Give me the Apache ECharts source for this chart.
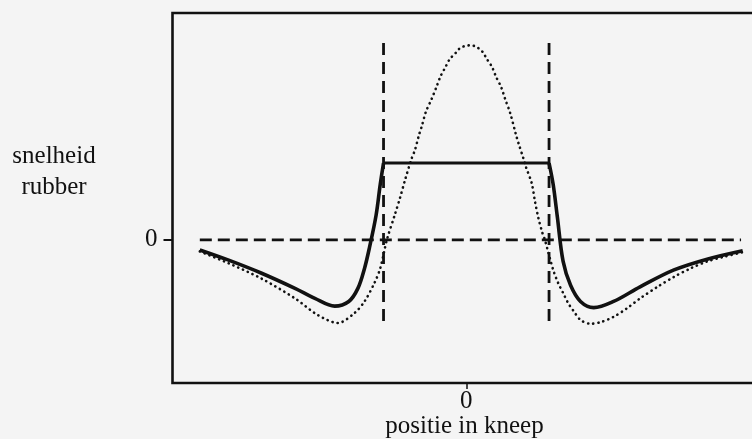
<!DOCTYPE html>
<html>
<head>
<meta charset="utf-8">
<script src="https://cdn.jsdelivr.net/npm/echarts@6/dist/echarts.min.js"></script>
<style>
  html, body { margin: 0; padding: 0; background: #f4f4f4; }
  #chart { width: 752px; height: 439px; }
</style>
</head>
<body>
<div id="chart"></div>
<script>
// Rubber surface speed across the nip (kneep), in relative units.
// Positions: the nip edges sit at -1 and +1.

// Resulting rubber speed (solid), split into three parts
const speedLeft = [
  [-3.22, -0.13], [-2.88, -0.26], [-2.48, -0.43], [-2.07, -0.63], [-1.83, -0.76],
  [-1.59, -0.86], [-1.42, -0.80], [-1.31, -0.63], [-1.23, -0.37], [-1.17, -0.10],
  [-1.09, 0.32], [-1.04, 0.72], [-1.00, 1.00]
];
const speedContact = [[-1.00, 1.00], [1.00, 1.00]];
const speedRight = [
  [1.00, 1.00], [1.05, 0.72], [1.10, 0.30], [1.17, -0.28],
  [1.26, -0.59], [1.38, -0.80], [1.54, -0.88], [1.78, -0.80], [2.10, -0.61],
  [2.51, -0.39], [2.91, -0.25], [3.34, -0.14]
];

// Free (unconstrained) rubber speed (dotted)
const speedFree = [
  [-3.22, -0.15], [-2.88, -0.30], [-2.48, -0.50], [-2.07, -0.76], [-1.79, -0.98],
  [-1.55, -1.08], [-1.35, -0.95], [-1.23, -0.80], [-1.11, -0.56], [-1.04, -0.37],
  [-0.96, 0.00], [-0.86, 0.34], [-0.80, 0.55], [-0.74, 0.78], [-0.66, 1.06],
  [-0.62, 1.17], [-0.57, 1.37], [-0.54, 1.47], [-0.49, 1.66], [-0.42, 1.83],
  [-0.36, 1.99], [-0.31, 2.13], [-0.25, 2.25], [-0.20, 2.35], [-0.12, 2.44],
  [-0.08, 2.49], [-0.02, 2.52], [0.04, 2.53], [0.10, 2.52], [0.15, 2.49],
  [0.20, 2.44], [0.25, 2.35], [0.31, 2.25], [0.36, 2.12], [0.42, 1.99],
  [0.47, 1.83], [0.53, 1.65], [0.60, 1.37], [0.63, 1.26], [0.69, 1.06],
  [0.72, 0.95], [0.79, 0.74], [0.83, 0.50], [0.87, 0.29], [0.92, 0.09],
  [0.95, 0.00], [1.05, -0.39], [1.11, -0.56], [1.17, -0.69], [1.23, -0.82],
  [1.30, -0.93], [1.38, -1.04], [1.50, -1.09], [1.62, -1.07], [1.78, -1.00],
  [1.94, -0.89], [2.10, -0.76], [2.31, -0.61], [2.51, -0.48], [2.71, -0.37],
  [2.91, -0.28], [3.11, -0.22], [3.34, -0.16]
];

// Reference lines: nip edges and the zero-speed level
const nipEdges = [-1, 1];
const edgeSpan = [2.56, -1.08];
const zeroSpan = [-3.22, 3.32];

// Tick values and labels
const xTicks = [0];
const yTicks = [0];
const xTitle = 'positie in kneep';
const yTitle = ['snelheid', 'rubber'];

const ink = '#111111';
const serif = '"Liberation Serif", "DejaVu Serif", serif';

const chart = echarts.init(document.getElementById('chart'), null, { renderer: 'canvas' });

const dashed = { color: ink, width: 2.6, type: [12, 6] };

const series = [
  {
    type: 'line', data: zeroSpan.map(x => [x, 0]),
    symbol: 'none', lineStyle: dashed, silent: true, z: 2
  },
  ...nipEdges.map(x => ({
    type: 'line', data: edgeSpan.map(y => [x, y]),
    symbol: 'none', lineStyle: { color: ink, width: 2.8, type: [12, 7] }, silent: true, z: 2
  })),
  {
    type: 'line', data: speedFree, symbol: 'none', smooth: 0.3,
    lineStyle: { color: ink, width: 2.6, type: [0.2, 5], cap: 'round' }, z: 3
  },
  {
    type: 'line', data: speedLeft, symbol: 'none', smooth: 0.35,
    lineStyle: { color: ink, width: 3.6 }, z: 4
  },
  {
    type: 'line', data: speedContact, symbol: 'none',
    lineStyle: { color: ink, width: 3 }, z: 4
  },
  {
    type: 'line', data: speedRight, symbol: 'none', smooth: 0.35,
    lineStyle: { color: ink, width: 3.6 }, z: 4
  }
];

chart.setOption({
  backgroundColor: '#f4f4f4',
  animation: false,
  grid: {
    left: 172.5, top: 13, width: 600, height: 370,
    outerBoundsMode: 'none', containLabel: false,
    show: true, borderColor: ink, borderWidth: 2.6, backgroundColor: 'transparent'
  },
  xAxis: {
    type: 'value', min: -3.55, max: 3.7,
    axisLine: { show: false, onZero: false },
    splitLine: { show: false },
    axisTick: { show: true, customValues: xTicks, length: 6, lineStyle: { color: ink, width: 1.5 } },
    axisLabel: { customValues: xTicks, color: ink, fontFamily: serif, fontSize: 25, margin: 6 },
    name: xTitle, nameLocation: 'middle', nameGap: 31, nameMoveOverlap: false,
    nameTextStyle: {
      color: ink, fontFamily: serif, fontSize: 25, verticalAlign: 'top',
      padding: [0, 16, 0, 0]
    }
  },
  yAxis: {
    type: 'value', min: -1.86, max: 2.95,
    axisLine: { show: false, onZero: false },
    splitLine: { show: false },
    axisTick: { show: true, customValues: yTicks, length: 9, lineStyle: { color: ink, width: 2 } },
    axisLabel: { customValues: yTicks, color: ink, fontFamily: serif, fontSize: 25, margin: 15 }
  },
  graphic: yTitle.map((t, i) => ({
    type: 'text', x: 54, y: 156 + i * 31,
    style: { text: t, fill: ink, font: '25px ' + serif, textAlign: 'center', textVerticalAlign: 'middle' }
  })),
  series
});
</script>
</body>
</html>
